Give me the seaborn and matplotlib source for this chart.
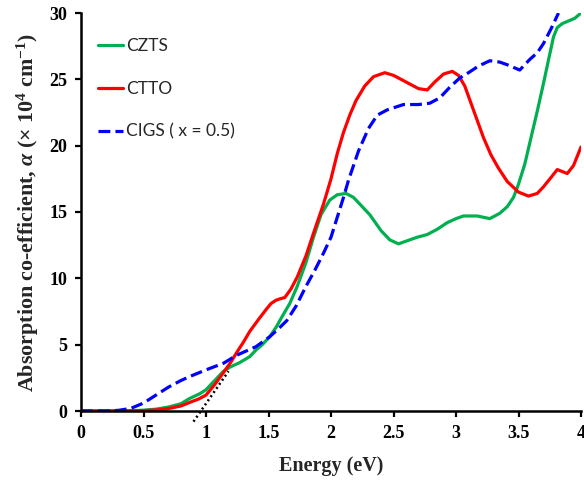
import numpy as np
import pandas as pd
import matplotlib
matplotlib.use("Agg")
import matplotlib.pyplot as plt
import seaborn as sns

# ---- data ----
x_czts = [0, 0.2, 0.4, 0.5, 0.6, 0.7, 0.8, 0.87, 0.95, 1.0, 1.07, 1.14, 1.2, 1.27, 1.35, 1.4,
          1.45, 1.51, 1.56, 1.62, 1.67, 1.73, 1.8, 1.86, 1.92, 1.99, 2.05, 2.12, 2.18, 2.25, 2.31,
          2.4, 2.47, 2.54, 2.6, 2.69, 2.77, 2.85, 2.93, 3.0, 3.06, 3.17, 3.27, 3.35, 3.41, 3.46,
          3.5, 3.55, 3.6, 3.65, 3.7, 3.75, 3.78, 3.81, 3.85, 3.9, 3.95, 4.0]
y_czts = [0, 0, 0.02, 0.06, 0.14, 0.3, 0.55, 0.95, 1.3, 1.6, 2.3, 3.0, 3.35, 3.65, 4.1, 4.6,
          5.0, 5.6, 6.3, 7.3, 8.1, 9.4, 11.2, 13.1, 14.8, 15.9, 16.3, 16.4, 16.1, 15.4, 14.8,
          13.6, 12.9, 12.6, 12.8, 13.1, 13.3, 13.7, 14.2, 14.5, 14.7, 14.7, 14.5, 14.9, 15.4, 16.1,
          17.1, 18.6, 20.6, 22.6, 24.7, 26.9, 28.2, 28.9, 29.2, 29.4, 29.6, 30.0]

x_ctto = [0, 0.4, 0.5, 0.6, 0.7, 0.8, 0.87, 0.94, 1.0, 1.07, 1.14, 1.2, 1.245, 1.3, 1.35, 1.42,
          1.485, 1.52, 1.56, 1.59, 1.63, 1.68, 1.73, 1.8, 1.86, 1.94, 2.0, 2.05, 2.1, 2.15, 2.2,
          2.27, 2.34, 2.43, 2.5, 2.6, 2.7, 2.77, 2.83, 2.9, 2.97, 3.02, 3.07, 3.12, 3.17, 3.22,
          3.28, 3.34, 3.41, 3.5, 3.58, 3.65, 3.7, 3.76, 3.81, 3.85, 3.89, 3.94, 4.0]
y_ctto = [0, 0.01, 0.03, 0.08, 0.18, 0.38, 0.65, 0.9, 1.2, 2.0, 2.9, 3.7, 4.4, 5.2, 6.0, 6.9,
          7.7, 8.1, 8.35, 8.45, 8.55, 9.2, 10.1, 11.7, 13.4, 15.6, 17.5, 19.4, 21.0, 22.3, 23.4,
          24.5, 25.2, 25.5, 25.3, 24.8, 24.3, 24.2, 24.8, 25.4, 25.6, 25.3, 24.5, 23.2, 21.9, 20.6,
          19.3, 18.3, 17.3, 16.5, 16.2, 16.4, 16.9, 17.6, 18.2, 18.05, 17.9, 18.5, 19.9]

x_cigs = [0, 0.2, 0.3, 0.4, 0.5, 0.6, 0.7, 0.8, 0.87, 1.0, 1.14, 1.245, 1.4, 1.51, 1.58, 1.645,
          1.72, 1.8, 1.87, 1.94, 2.0, 2.05, 2.1, 2.14, 2.22, 2.3, 2.37, 2.45, 2.58, 2.7, 2.79,
          2.87, 2.95, 3.03, 3.1, 3.18, 3.27, 3.35, 3.41, 3.51, 3.59, 3.65, 3.7, 3.76, 3.82]
y_cigs = [0, 0, 0.05, 0.2, 0.6, 1.2, 1.8, 2.3, 2.6, 3.1, 3.6, 4.2, 4.85, 5.6, 6.2, 6.8,
          7.9, 9.4, 10.6, 11.9, 13.1, 14.6, 16.1, 17.4, 19.6, 21.3, 22.3, 22.7, 23.1, 23.1, 23.2,
          23.6, 24.4, 25.1, 25.5, 26.0, 26.4, 26.3, 26.1, 25.7, 26.5, 27.0, 27.7, 28.8, 30.0]

x_tangent = [0.9, 1.18]
y_tangent = [-0.8, 3.0]

labels = ["CZTS", "CTTO", "CIGS ( x = 0.5)"]
colors = ["#00B050", "#FF0000", "#0000FF"]

xticks = [0, 0.5, 1, 1.5, 2, 2.5, 3, 3.5, 4]
xtick_labels = ["0", "0.5", "1", "1.5", "2", "2.5", "3", "3.5", "4"]
yticks = [0, 5, 10, 15, 20, 25, 30]

# ---- figure ----
sns.set_style("ticks")
plt.rcParams["mathtext.fontset"] = "custom"
plt.rcParams["mathtext.rm"] = "Liberation Serif:bold"
plt.rcParams["mathtext.it"] = "Liberation Serif:bold:italic"
plt.rcParams["mathtext.bf"] = "Liberation Serif:bold"
plt.rcParams["lines.solid_joinstyle"] = "round"
plt.rcParams["lines.solid_capstyle"] = "round"

fig = plt.figure(figsize=(5.84, 4.82), dpi=100)
ax = fig.add_axes([81 / 584, 71 / 482, 500 / 584, 398 / 482])

df_czts = pd.DataFrame({"x": x_czts, "y": y_czts})
df_ctto = pd.DataFrame({"x": x_ctto, "y": y_ctto})
df_cigs = pd.DataFrame({"x": x_cigs, "y": y_cigs})

sns.lineplot(data=df_czts, x="x", y="y", ax=ax, color=colors[0], lw=2.3, label=labels[0])
sns.lineplot(data=df_ctto, x="x", y="y", ax=ax, color=colors[1], lw=2.3, label=labels[1])
sns.lineplot(data=df_cigs, x="x", y="y", ax=ax, color=colors[2], lw=2.3, label=labels[2],
             linestyle="--", dashes=(3.2, 1.8))
ax.plot(x_tangent, y_tangent, color="black", lw=1.8, linestyle=(0, (0.8, 1.2)), clip_on=False)

ax.set_xlim(0, 4)
ax.set_ylim(0, 30)
ax.set_xticks(xticks)
ax.set_xticklabels(xtick_labels)
ax.set_yticks(yticks)

sns.despine(ax=ax)
for s in ["left", "bottom"]:
    ax.spines[s].set_linewidth(1.8)
    ax.spines[s].set_color("black")
ax.tick_params(axis="both", direction="out", length=4, width=1.6, colors="black", pad=6)
for lab in ax.get_xticklabels() + ax.get_yticklabels():
    lab.set_fontfamily("Liberation Serif")
    lab.set_fontweight("bold")
    lab.set_fontsize(13)

ax.set_xlabel("Energy (eV)", fontfamily="Liberation Serif", fontweight="bold",
              fontsize=14.5, labelpad=10)
ax.set_ylabel(r"Absorption co-efficient, $\alpha$ (× 10$^{4}$ cm$^{-1}$)",
              fontfamily="Liberation Serif", fontweight="bold", fontsize=15.8, labelpad=6)

leg = ax.legend(loc="upper left", bbox_to_anchor=(0.02, 0.955), frameon=False,
                prop={"family": "Lato", "size": 12.5}, handlelength=1.45,
                handletextpad=0.15, labelspacing=1.55, borderaxespad=0)

fig.savefig("out.png", dpi=100)
